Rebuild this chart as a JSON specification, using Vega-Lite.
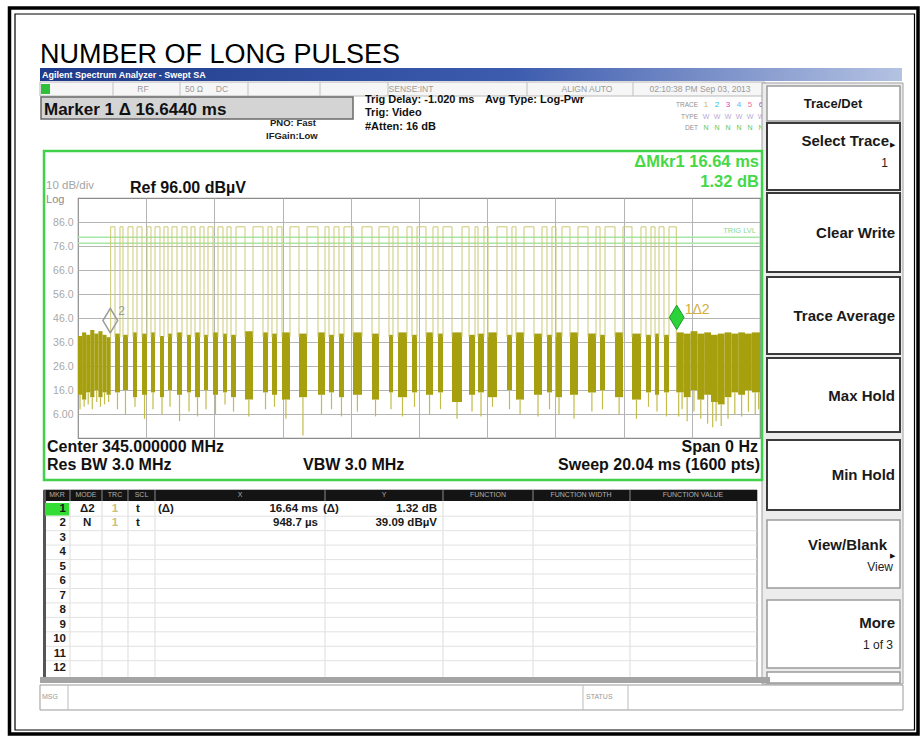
{
"$schema": "https://vega.github.io/schema/vega-lite/v6.json",
"width": 682, "height": 240,
"autosize": {"type": "none"},
"padding": {"left": 78, "top": 198, "right": 163, "bottom": 302},
"background": "#ffffff",
"config": {"font": "Liberation Sans", "view": {"stroke": "#8c8c8c", "strokeWidth": 1.2}},
"datasets": {
"blocks": [
{"t":0,"t2":0.12,"v":38.5,"v2":14},{"t":0.12,"t2":0.24,"v":40,"v2":12},{"t":0.24,"t2":0.36,"v":39,"v2":15},{"t":0.36,"t2":0.48,"v":41,"v2":13},{"t":0.48,"t2":0.6,"v":39.5,"v2":16},{"t":0.6,"t2":0.72,"v":40.5,"v2":13},{"t":0.72,"t2":0.84,"v":39,"v2":15},{"t":0.84,"t2":0.96,"v":38,"v2":14},
{"t":1.087,"t2":1.234,"v":39.5,"v2":15},{"t":1.322,"t2":1.469,"v":39,"v2":16},{"t":1.616,"t2":1.734,"v":40,"v2":13},{"t":1.881,"t2":2.028,"v":39.5,"v2":14},{"t":2.145,"t2":2.263,"v":40,"v2":15},{"t":2.409,"t2":2.527,"v":38.5,"v2":13},{"t":2.645,"t2":2.762,"v":39.5,"v2":16},{"t":2.909,"t2":3.056,"v":40,"v2":14},{"t":3.203,"t2":3.321,"v":39,"v2":15},{"t":3.438,"t2":3.585,"v":40,"v2":13},{"t":3.702,"t2":3.82,"v":39,"v2":16},{"t":3.967,"t2":4.114,"v":40,"v2":14},{"t":4.261,"t2":4.378,"v":39.5,"v2":15},{"t":4.496,"t2":4.643,"v":39,"v2":13},{"t":4.907,"t2":5.142,"v":40.5,"v2":12},{"t":5.436,"t2":5.583,"v":40,"v2":15},{"t":5.7,"t2":5.847,"v":39.5,"v2":14},{"t":5.994,"t2":6.229,"v":40,"v2":12},{"t":6.494,"t2":6.729,"v":39.5,"v2":13},{"t":7.052,"t2":7.258,"v":40,"v2":14},{"t":7.375,"t2":7.522,"v":39,"v2":15},{"t":7.669,"t2":7.816,"v":39.5,"v2":13},{"t":8.081,"t2":8.345,"v":40,"v2":14},{"t":8.639,"t2":8.845,"v":39.5,"v2":12},{"t":9.138,"t2":9.256,"v":39,"v2":15},{"t":9.403,"t2":9.667,"v":40,"v2":13},{"t":9.814,"t2":9.961,"v":39,"v2":15},{"t":10.226,"t2":10.431,"v":40,"v2":14},{"t":10.578,"t2":10.725,"v":39.5,"v2":15},{"t":10.99,"t2":11.284,"v":40,"v2":11},{"t":11.49,"t2":11.666,"v":39,"v2":14},{"t":11.754,"t2":11.93,"v":39.5,"v2":15},{"t":12.048,"t2":12.312,"v":40,"v2":13},{"t":12.605,"t2":12.752,"v":39,"v2":16},{"t":12.87,"t2":13.105,"v":40,"v2":12},{"t":13.399,"t2":13.634,"v":39.5,"v2":14},{"t":13.781,"t2":13.928,"v":39,"v2":15},{"t":14.046,"t2":14.222,"v":40,"v2":13},{"t":14.457,"t2":14.692,"v":40,"v2":14},{"t":14.986,"t2":15.221,"v":39.5,"v2":15},{"t":15.339,"t2":15.486,"v":39,"v2":16},{"t":15.779,"t2":16.014,"v":40,"v2":13},{"t":16.279,"t2":16.543,"v":39.5,"v2":12},{"t":16.69,"t2":16.837,"v":39,"v2":15},{"t":16.955,"t2":17.072,"v":39.5,"v2":14},{"t":17.219,"t2":17.366,"v":39,"v2":15},
{"t":17.58,"t2":17.8,"v":40,"v2":15},{"t":17.8,"t2":18,"v":39.5,"v2":13},{"t":18,"t2":18.2,"v":40.5,"v2":16},{"t":18.2,"t2":18.4,"v":39.5,"v2":12},{"t":18.4,"t2":18.6,"v":40,"v2":14},{"t":18.6,"t2":18.8,"v":39,"v2":11},{"t":18.8,"t2":19,"v":39.5,"v2":10},{"t":19,"t2":19.2,"v":40,"v2":13},{"t":19.2,"t2":19.4,"v":39.5,"v2":15},{"t":19.4,"t2":19.6,"v":40,"v2":14},{"t":19.6,"t2":19.8,"v":39.5,"v2":16},{"t":19.8,"t2":20.04,"v":40,"v2":15}
],
"spikes": [
{"t":0.06,"v":14,"v2":8},{"t":0.18,"v":12,"v2":9},{"t":0.3,"v":15,"v2":10},{"t":0.42,"v":13,"v2":8},{"t":0.55,"v":16,"v2":11},{"t":0.66,"v":13,"v2":9},{"t":0.78,"v":15,"v2":10},{"t":0.9,"v":14,"v2":11},
{"t":1.16,"v":15,"v2":8},{"t":1.395,"v":16,"v2":6},{"t":1.675,"v":13,"v2":9},{"t":1.955,"v":14,"v2":4},{"t":2.204,"v":15,"v2":8},{"t":2.468,"v":13,"v2":6},{"t":2.703,"v":16,"v2":9},{"t":2.983,"v":14,"v2":3},{"t":3.262,"v":15,"v2":7},{"t":3.512,"v":13,"v2":5},{"t":3.761,"v":16,"v2":8},{"t":4.04,"v":14,"v2":6},{"t":4.32,"v":15,"v2":10},{"t":4.57,"v":13,"v2":7},{"t":5.02,"v":12,"v2":5},{"t":5.51,"v":15,"v2":8},{"t":5.774,"v":14,"v2":9},{"t":6.11,"v":12,"v2":4},{"t":6.61,"v":13,"v2":-3},{"t":7.155,"v":14,"v2":6},{"t":7.449,"v":15,"v2":8},{"t":7.742,"v":13,"v2":5},{"t":8.21,"v":14,"v2":7},{"t":8.742,"v":12,"v2":5},{"t":9.197,"v":15,"v2":8},{"t":9.535,"v":13,"v2":5},{"t":9.888,"v":15,"v2":9},{"t":10.33,"v":14,"v2":6},{"t":10.652,"v":15,"v2":8},{"t":11.137,"v":11,"v2":4},{"t":11.578,"v":14,"v2":7},{"t":11.842,"v":15,"v2":5},{"t":12.18,"v":13,"v2":9},{"t":12.679,"v":16,"v2":8},{"t":12.99,"v":12,"v2":6},{"t":13.517,"v":14,"v2":5},{"t":13.855,"v":15,"v2":8},{"t":14.134,"v":13,"v2":6},{"t":14.575,"v":14,"v2":4},{"t":15.1,"v":15,"v2":7},{"t":15.412,"v":16,"v2":8},{"t":15.9,"v":13,"v2":6},{"t":16.41,"v":12,"v2":4},{"t":16.764,"v":15,"v2":9},{"t":17.013,"v":14,"v2":7},{"t":17.292,"v":15,"v2":5},
{"t":17.65,"v":15,"v2":5},{"t":17.75,"v":15,"v2":8},{"t":17.9,"v":13,"v2":3},{"t":18.1,"v":16,"v2":7},{"t":18.3,"v":12,"v2":4},{"t":18.5,"v":14,"v2":2},{"t":18.65,"v":11,"v2":0.5},{"t":18.75,"v":11,"v2":3},{"t":18.9,"v":10,"v2":1},{"t":19.1,"v":13,"v2":4},{"t":19.3,"v":15,"v2":6},{"t":19.5,"v":14,"v2":5},{"t":19.7,"v":16,"v2":7},{"t":19.9,"v":15,"v2":6},{"t":20.0,"v":15,"v2":8}
],
"pulses": [
{"t":0.96,"t2":1.087,"v":84,"v2":38},{"t":1.234,"t2":1.322,"v":84,"v2":38},{"t":1.469,"t2":1.616,"v":84,"v2":38},{"t":1.734,"t2":1.881,"v":84,"v2":38},{"t":2.028,"t2":2.145,"v":84,"v2":38},{"t":2.263,"t2":2.409,"v":84,"v2":38},{"t":2.527,"t2":2.645,"v":84,"v2":38},{"t":2.762,"t2":2.909,"v":84,"v2":38},{"t":3.056,"t2":3.203,"v":84,"v2":38},{"t":3.321,"t2":3.438,"v":84,"v2":38},{"t":3.585,"t2":3.702,"v":84,"v2":38},{"t":3.82,"t2":3.967,"v":84,"v2":38},{"t":4.114,"t2":4.261,"v":84,"v2":38},{"t":4.378,"t2":4.496,"v":84,"v2":38},{"t":4.643,"t2":4.907,"v":84,"v2":38},{"t":5.142,"t2":5.436,"v":84,"v2":38},{"t":5.583,"t2":5.7,"v":84,"v2":38},{"t":5.847,"t2":5.994,"v":84,"v2":38},{"t":6.229,"t2":6.494,"v":84,"v2":38},{"t":6.729,"t2":7.052,"v":84,"v2":38},{"t":7.258,"t2":7.375,"v":84,"v2":38},{"t":7.522,"t2":7.669,"v":84,"v2":38},{"t":7.816,"t2":8.081,"v":84,"v2":38},{"t":8.345,"t2":8.639,"v":84,"v2":38},{"t":8.845,"t2":9.138,"v":84,"v2":38},{"t":9.256,"t2":9.403,"v":84,"v2":38},{"t":9.667,"t2":9.814,"v":84,"v2":38},{"t":9.961,"t2":10.226,"v":84,"v2":38},{"t":10.431,"t2":10.578,"v":84,"v2":38},{"t":10.725,"t2":10.99,"v":84,"v2":38},{"t":11.284,"t2":11.49,"v":84,"v2":38},{"t":11.666,"t2":11.754,"v":84,"v2":38},{"t":11.93,"t2":12.048,"v":84,"v2":38},{"t":12.312,"t2":12.605,"v":84,"v2":38},{"t":12.752,"t2":12.87,"v":84,"v2":38},{"t":13.105,"t2":13.399,"v":84,"v2":38},{"t":13.634,"t2":13.781,"v":84,"v2":38},{"t":13.928,"t2":14.046,"v":84,"v2":38},{"t":14.222,"t2":14.457,"v":84,"v2":38},{"t":14.692,"t2":14.986,"v":84,"v2":38},{"t":15.221,"t2":15.339,"v":84,"v2":38},{"t":15.486,"t2":15.779,"v":84,"v2":38},{"t":16.014,"t2":16.279,"v":84,"v2":38},{"t":16.543,"t2":16.69,"v":84,"v2":38},{"t":16.837,"t2":16.955,"v":84,"v2":38},{"t":17.072,"t2":17.219,"v":84,"v2":38},{"t":17.366,"t2":17.58,"v":84,"v2":38}
],
"tablebody": [{"t":-0.235,"v":-30.25,"v2":-103.5},{"t":0.705,"v":-30.25,"v2":-103.5},{"t":1.469,"v":-30.25,"v2":-103.5},{"t":2.263,"v":-30.25,"v2":-103.5},{"t":7.258,"v":-30.25,"v2":-103.5},{"t":10.725,"v":-30.25,"v2":-103.5},{"t":13.37,"v":-30.25,"v2":-103.5},{"t":16.22,"v":-30.25,"v2":-103.5}],
"tablehead": [{"t":-0.235,"v":-25.667,"v2":-30.25},{"t":0.705,"v":-25.667,"v2":-30.25},{"t":1.469,"v":-25.667,"v2":-30.25},{"t":2.263,"v":-25.667,"v2":-30.25},{"t":7.258,"v":-25.667,"v2":-30.25},{"t":10.725,"v":-25.667,"v2":-30.25},{"t":13.37,"v":-25.667,"v2":-30.25},{"t":16.22,"v":-25.667,"v2":-30.25}],
"rownums": [
{"t":-0.353,"v":-33.583,"s":"1"},{"t":-0.353,"v":-39.604,"s":"2"},{"t":-0.353,"v":-45.625,"s":"3"},{"t":-0.353,"v":-51.646,"s":"4"},{"t":-0.353,"v":-57.667,"s":"5"},{"t":-0.353,"v":-63.688,"s":"6"},{"t":-0.353,"v":-69.708,"s":"7"},{"t":-0.353,"v":-75.729,"s":"8"},{"t":-0.353,"v":-81.75,"s":"9"},{"t":-0.353,"v":-87.771,"s":"10"},{"t":-0.353,"v":-93.792,"s":"11"},{"t":-0.353,"v":-99.813,"s":"12"}
]
},
"encoding": {
"x": {"field": "t", "type": "quantitative", "scale": {"domain": [0, 20.04], "nice": false, "zero": false},
 "axis": {"values": [2.004, 4.008, 6.012, 8.016, 10.02, 12.024, 14.028, 16.032, 18.036], "grid": true, "gridColor": "#b4b4b4", "labels": false, "ticks": false, "domain": false, "title": null}},
"y": {"field": "v", "type": "quantitative", "scale": {"domain": [-4, 96], "nice": false, "zero": false},
 "axis": {"values": [6, 16, 26, 36, 46, 56, 66, 76, 86], "grid": true, "gridColor": "#b4b4b4", "ticks": false, "domain": false, "title": null, "labelColor": "#a8a8a8", "labelFontSize": 10.5, "labelPadding": 5, "labelExpr": "datum.value < 10 ? format(datum.value, '.2f') : format(datum.value, '.1f')"}}
},
"layer": [
{"data": {"values": [{"t": -2.013, "t2": 24.683, "v": 175.167, "v2": -127.333}]}, "mark": {"type": "rect", "fillOpacity": 0, "stroke": "#000000", "strokeWidth": 3.5}, "encoding": {"x2": {"field": "t2"}, "y2": {"field": "v2"}}},
{"data": {"values": [{"t": -1.851, "t2": 24.58, "v": 172.667, "v2": -125.667}]}, "mark": {"type": "rect", "fillOpacity": 0, "stroke": "#000000", "strokeWidth": 1.2}, "encoding": {"x2": {"field": "t2"}, "y2": {"field": "v2"}}},
{"data": {"values": [{"t": -1.117, "v": 152.25, "s": "NUMBER OF LONG PULSES"}]}, "mark": {"type": "text", "align": "left", "baseline": "alphabetic", "fontSize": 27, "color": "#000000"}, "encoding": {"text": {"field": "s"}}},
{"data": {"values": [{"t": -1.117, "t2": 24.212, "v": 150.167, "v2": 144.75}]}, "mark": {"type": "rect", "fill": {"gradient": "linear", "x1": 0, "y1": 0, "x2": 1, "y2": 0, "stops": [{"offset": 0, "color": "#1f3a8a"}, {"offset": 0.55, "color": "#3d5cae"}, {"offset": 1, "color": "#b4c2e2"}]}}, "encoding": {"x2": {"field": "t2"}, "y2": {"field": "v2"}}},
{"data": {"values": [{"t": -1.058, "v": 147.458, "s": "Agilent Spectrum Analyzer - Swept SA"}]}, "mark": {"type": "text", "align": "left", "fontSize": 9, "fontWeight": "bold", "color": "#ffffff"}, "encoding": {"text": {"field": "s"}}},
{"data": {"values": [{"t": -1.117, "t2": 20.187, "v": 144.333, "v2": 138.5}]}, "mark": {"type": "rect", "fill": "#f6f6f6", "stroke": "#b8b8b8", "strokeWidth": 1}, "encoding": {"x2": {"field": "t2"}, "y2": {"field": "v2"}}},
{"data": {"values": [{"t": 1.028, "v": 144.333, "v2": 138.5}, {"t": 2.997, "v": 144.333, "v2": 138.5}, {"t": 4.995, "v": 144.333, "v2": 138.5}, {"t": 7.111, "v": 144.333, "v2": 138.5}, {"t": 9.109, "v": 144.333, "v2": 138.5}, {"t": 13.193, "v": 144.333, "v2": 138.5}, {"t": 16.308, "v": 144.333, "v2": 138.5}]}, "mark": {"type": "rule", "stroke": "#c0c0c0"}, "encoding": {"y2": {"field": "v2"}}},
{"data": {"values": [{"t": -1.087, "t2": -0.823, "v": 143.5, "v2": 139.333}]}, "mark": {"type": "rect", "fill": "#2fbf3a"}, "encoding": {"x2": {"field": "t2"}, "y2": {"field": "v2"}}},
{"data": {"values": [{"t": 1.91, "v": 141.417, "s": "RF"}, {"t": 3.409, "v": 141.417, "s": "50 Ω"}, {"t": 4.231, "v": 141.417, "s": "DC"}, {"t": 9.785, "v": 141.417, "s": "SENSE:INT"}, {"t": 14.956, "v": 141.417, "s": "ALIGN AUTO"}, {"t": 18.277, "v": 141.417, "s": "02:10:38 PM Sep 03, 2013"}]}, "mark": {"type": "text", "align": "center", "fontSize": 8.5, "color": "#9a9a9a"}, "encoding": {"text": {"field": "s"}}},
{"data": {"values": [{"t": -1.087, "t2": 8.081, "v": 138.083, "v2": 128.917}]}, "mark": {"type": "rect", "fill": "#d4d4d4", "stroke": "#6a6a6a", "strokeWidth": 1.5}, "encoding": {"x2": {"field": "t2"}, "y2": {"field": "v2"}}},
{"data": {"values": [{"t": -0.999, "v": 132.875, "s": "Marker 1 Δ 16.6440 ms"}]}, "mark": {"type": "text", "align": "left", "fontSize": 17, "fontWeight": "bold", "color": "#111111"}, "encoding": {"text": {"field": "s"}}},
{"data": {"values": [{"t": 8.433, "v": 136.833, "s": "Trig Delay: -1.020 ms"}, {"t": 8.433, "v": 131.417, "s": "Trig: Video"}, {"t": 8.433, "v": 125.583, "s": "#Atten: 16 dB"}, {"t": 11.959, "v": 136.833, "s": "Avg Type: Log-Pwr"}]}, "mark": {"type": "text", "align": "left", "fontSize": 11, "fontWeight": "bold", "color": "#111111"}, "encoding": {"text": {"field": "s"}}},
{"data": {"values": [{"t": 5.642, "v": 127.25, "s": "PNO: Fast"}, {"t": 5.524, "v": 121.833, "s": "IFGain:Low"}]}, "mark": {"type": "text", "align": "left", "fontSize": 9.5, "fontWeight": "bold", "color": "#222222"}, "encoding": {"text": {"field": "s"}}},
{"data": {"values": [{"t": 18.218, "v": 134.75, "s": "TRACE"}, {"t": 18.218, "v": 129.75, "s": "TYPE"}, {"t": 18.218, "v": 125.167, "s": "DET"}]}, "mark": {"type": "text", "align": "right", "fontSize": 6.5, "color": "#909090"}, "encoding": {"text": {"field": "s"}}},
{"data": {"values": [{"t": 18.453, "v": 134.75, "s": "1"}, {"t": 18.777, "v": 134.75, "s": "2"}, {"t": 19.1, "v": 134.75, "s": "3"}, {"t": 19.423, "v": 134.75, "s": "4"}, {"t": 19.746, "v": 134.75, "s": "5"}, {"t": 20.07, "v": 134.75, "s": "6"}]}, "mark": {"type": "text", "align": "center", "fontSize": 8}, "encoding": {"text": {"field": "s"}, "color": {"field": "s", "type": "nominal", "scale": {"domain": ["1", "2", "3", "4", "5", "6"], "range": ["#c8c040", "#30c0e0", "#e040c0", "#60b0ff", "#f070a0", "#a060d0"]}, "legend": null}}},
{"data": {"values": [{"t": 18.453, "v": 129.75, "s": "W"}, {"t": 18.777, "v": 129.75, "s": "W"}, {"t": 19.1, "v": 129.75, "s": "W"}, {"t": 19.423, "v": 129.75, "s": "W"}, {"t": 19.746, "v": 129.75, "s": "W"}, {"t": 20.07, "v": 129.75, "s": "W"}]}, "mark": {"type": "text", "align": "center", "fontSize": 7, "color": "#b8a8d8"}, "encoding": {"text": {"field": "s"}}},
{"data": {"values": [{"t": 18.453, "v": 125.167, "s": "N"}, {"t": 18.777, "v": 125.167, "s": "N"}, {"t": 19.1, "v": 125.167, "s": "N"}, {"t": 19.423, "v": 125.167, "s": "N"}, {"t": 19.746, "v": 125.167, "s": "N"}, {"t": 20.07, "v": 125.167, "s": "N"}]}, "mark": {"type": "text", "align": "center", "fontSize": 7, "color": "#58c858"}, "encoding": {"text": {"field": "s"}}},
{"data": {"values": [{"t": 20.099, "t2": 24.242, "v": 143.917, "v2": -106.5}]}, "mark": {"type": "rect", "fill": "#ececec", "stroke": "#a0a0a0", "strokeWidth": 1}, "encoding": {"x2": {"field": "t2"}, "y2": {"field": "v2"}}},
{"data": {"values": [{"t": 20.246, "t2": 24.154, "v": 142.667, "v2": 128.083}, {"t": 20.246, "t2": 24.154, "v": -38.167, "v2": -66.5}, {"t": 20.246, "t2": 24.154, "v": -71.5, "v2": -99.833}, {"t": 20.246, "t2": 24.154, "v": -101.5, "v2": -106.083}]}, "mark": {"type": "rect", "fill": "#ffffff", "stroke": "#9a9a9a", "strokeWidth": 1.5}, "encoding": {"x2": {"field": "t2"}, "y2": {"field": "v2"}}},
{"data": {"values": [{"t": 20.246, "t2": 24.154, "v": 127.25, "v2": 99.333}, {"t": 20.246, "t2": 24.154, "v": 98.083, "v2": 65.167}, {"t": 20.246, "t2": 24.154, "v": 63.083, "v2": 31.0}, {"t": 20.246, "t2": 24.154, "v": 29.333, "v2": -1.5}, {"t": 20.246, "t2": 24.154, "v": -4.833, "v2": -34.0}]}, "mark": {"type": "rect", "fill": "#ffffff", "stroke": "#3a3a3a", "strokeWidth": 2}, "encoding": {"x2": {"field": "t2"}, "y2": {"field": "v2"}}},
{"data": {"values": [{"t": 23.83, "v": 119.75, "s": "Select Trace"}, {"t": 24.007, "v": 81.417, "s": "Clear Write"}, {"t": 24.007, "v": 46.833, "s": "Trace Average"}, {"t": 24.007, "v": 13.5, "s": "Max Hold"}, {"t": 24.007, "v": -19.417, "s": "Min Hold"}, {"t": 23.772, "v": -48.583, "s": "View/Blank"}, {"t": 24.007, "v": -81.083, "s": "More"}]}, "mark": {"type": "text", "align": "right", "fontSize": 15, "fontWeight": "bold", "color": "#1a1a1a"}, "encoding": {"text": {"field": "s"}}},
{"data": {"values": [{"t": 22.185, "v": 135.375, "s": "Trace/Det"}]}, "mark": {"type": "text", "align": "center", "fontSize": 13, "fontWeight": "bold", "color": "#1a1a1a"}, "encoding": {"text": {"field": "s"}}},
{"data": {"values": [{"t": 23.801, "v": 110.583, "s": "1"}, {"t": 23.948, "v": -57.75, "s": "View"}, {"t": 23.948, "v": -90.25, "s": "1 of 3"}]}, "mark": {"type": "text", "align": "right", "fontSize": 12, "color": "#222222"}, "encoding": {"text": {"field": "s"}}},
{"data": {"values": [{"t": 23.948, "v": 118.083, "s": "▶"}, {"t": 23.948, "v": -53.167, "s": "▶"}]}, "mark": {"type": "text", "align": "center", "fontSize": 7, "color": "#111111"}, "encoding": {"text": {"field": "s"}}},
{"data": {"values": [{"t": -0.999, "t2": 20.099, "v": 115.583, "v2": -21.5}]}, "mark": {"type": "rect", "fillOpacity": 0, "stroke": "#3fd24a", "strokeWidth": 2.5}, "encoding": {"x2": {"field": "t2"}, "y2": {"field": "v2"}}},
{"data": {"values": [{"t": 20.01, "v": 110.792, "s": "ΔMkr1 16.64 ms"}, {"t": 20.01, "v": 102.875, "s": "1.32 dB"}]}, "mark": {"type": "text", "align": "right", "fontSize": 16.5, "fontWeight": "bold", "color": "#46d846"}, "encoding": {"text": {"field": "s"}}},
{"data": {"values": [{"t": -0.94, "v": 101.0, "s": "10 dB/div"}]}, "mark": {"type": "text", "align": "left", "fontSize": 11.5, "color": "#a4a4a4"}, "encoding": {"text": {"field": "s"}}},
{"data": {"values": [{"t": -0.94, "v": 95.167, "s": "Log"}]}, "mark": {"type": "text", "align": "left", "fontSize": 11, "color": "#8a8a8a"}, "encoding": {"text": {"field": "s"}}},
{"data": {"values": [{"t": 1.528, "v": 100.167, "s": "Ref 96.00 dBµV"}]}, "mark": {"type": "text", "align": "left", "fontSize": 16, "fontWeight": "bold", "color": "#111111"}, "encoding": {"text": {"field": "s"}}},
{"data": {"values": [{"t": -0.911, "v": -7.75, "s": "Center 345.000000 MHz"}, {"t": -0.911, "v": -15.25, "s": "Res BW 3.0 MHz"}, {"t": 6.611, "v": -15.25, "s": "VBW 3.0 MHz"}]}, "mark": {"type": "text", "align": "left", "fontSize": 16, "fontWeight": "bold", "color": "#111111"}, "encoding": {"text": {"field": "s"}}},
{"data": {"values": [{"t": 19.981, "v": -7.75, "s": "Span 0 Hz"}, {"t": 20.04, "v": -15.25, "s": "Sweep  20.04 ms (1600 pts)"}]}, "mark": {"type": "text", "align": "right", "fontSize": 16, "fontWeight": "bold", "color": "#111111"}, "encoding": {"text": {"field": "s"}}},
{"data": {"name": "blocks"}, "mark": {"type": "rect", "fill": "#a69f0e"}, "encoding": {"x2": {"field": "t2"}, "y2": {"field": "v2"}}},
{"data": {"values": [{"t": 0, "t2": 20.04, "v": 79.6}, {"t": 0, "t2": 20.04, "v": 77.1}]}, "mark": {"type": "rule", "stroke": "#a6e6a6", "strokeWidth": 1.5}, "encoding": {"x2": {"field": "t2"}}},
{"data": {"values": [{"t": 19.922, "v": 82.2, "s": "TRIG LVL"}]}, "mark": {"type": "text", "align": "right", "fontSize": 7.5, "color": "#8ed88e"}, "encoding": {"text": {"field": "s"}}},
{"data": {"name": "spikes"}, "mark": {"type": "rule", "stroke": "#c2bc48", "strokeWidth": 1.2}, "encoding": {"y2": {"field": "v2"}}},
{"data": {"name": "pulses"}, "mark": {"type": "rule", "stroke": "#cdc976", "strokeWidth": 1}, "encoding": {"x2": {"field": "t2"}}},
{"data": {"name": "pulses"}, "mark": {"type": "rule", "stroke": "#cdc976", "strokeWidth": 1}, "encoding": {"y2": {"field": "v2"}}},
{"data": {"name": "pulses"}, "mark": {"type": "rule", "stroke": "#cdc976", "strokeWidth": 1}, "encoding": {"x": {"field": "t2"}, "y2": {"field": "v2"}}},
{"data": {"values": [{"t": 0.9487, "v": 39.09}]}, "mark": {"type": "point", "shape": "M0,-1L0.6,0L0,1L-0.6,0Z", "size": 600, "filled": false, "stroke": "#9a9a9a", "strokeWidth": 1.5, "opacity": 1, "yOffset": -14}},
{"data": {"values": [{"t": 17.593, "v": 40.41}]}, "mark": {"type": "point", "shape": "M0,-1L0.6,0L0,1L-0.6,0Z", "size": 600, "filled": true, "fill": "#2bd23a", "stroke": "#1a9a28", "strokeWidth": 1, "opacity": 1, "yOffset": -14}},
{"data": {"values": [{"t": 0.9487, "v": 39.09, "s": "2"}]}, "mark": {"type": "text", "align": "left", "dx": 8, "dy": -24, "fontSize": 12, "color": "#9a9a9a"}, "encoding": {"text": {"field": "s"}}},
{"data": {"values": [{"t": 17.593, "v": 40.41, "s": "1Δ2"}]}, "mark": {"type": "text", "align": "left", "dx": 8, "dy": -21, "fontSize": 14, "color": "#d2ae42"}, "encoding": {"text": {"field": "s"}}},
{"data": {"values": [{"t": -0.999, "t2": 19.952, "v": -25.667, "v2": -104}]}, "mark": {"type": "rect", "fill": "#ffffff", "stroke": "#777777", "strokeWidth": 1}, "encoding": {"x2": {"field": "t2"}, "y2": {"field": "v2"}}},
{"data": {"values": [{"t": -0.97, "t2": 19.952, "v": -25.667, "v2": -30.25}]}, "mark": {"type": "rect", "fill": "#141414"}, "encoding": {"x2": {"field": "t2"}, "y2": {"field": "v2"}}},
{"data": {"name": "tablebody"}, "mark": {"type": "rule", "stroke": "#dddddd"}, "encoding": {"y2": {"field": "v2"}}},
{"data": {"name": "tablehead"}, "mark": {"type": "rule", "stroke": "#8a8a8a"}, "encoding": {"y2": {"field": "v2"}}},
{"data": {"values": [{"t": -0.97, "t2": 19.952, "v": -36.583}, {"t": -0.97, "t2": 19.952, "v": -42.625}, {"t": -0.97, "t2": 19.952, "v": -48.625}, {"t": -0.97, "t2": 19.952, "v": -54.667}, {"t": -0.97, "t2": 19.952, "v": -60.667}, {"t": -0.97, "t2": 19.952, "v": -66.708}, {"t": -0.97, "t2": 19.952, "v": -72.708}, {"t": -0.97, "t2": 19.952, "v": -78.75}, {"t": -0.97, "t2": 19.952, "v": -84.75}, {"t": -0.97, "t2": 19.952, "v": -90.792}, {"t": -0.97, "t2": 19.952, "v": -96.792}]}, "mark": {"type": "rule", "stroke": "#e2e2e2"}, "encoding": {"x2": {"field": "t2"}}},
{"data": {"values": [{"t": -0.984, "v": -25.667, "v2": -104}]}, "mark": {"type": "rule", "stroke": "#555555", "strokeWidth": 3}, "encoding": {"y2": {"field": "v2"}}},
{"data": {"values": [{"t": -0.617, "v": -27.958, "s": "MKR"}, {"t": 0.235, "v": -27.958, "s": "MODE"}, {"t": 1.087, "v": -27.958, "s": "TRC"}, {"t": 1.866, "v": -27.958, "s": "SCL"}, {"t": 4.76, "v": -27.958, "s": "X"}, {"t": 8.992, "v": -27.958, "s": "Y"}, {"t": 12.047, "v": -27.958, "s": "FUNCTION"}, {"t": 14.78, "v": -27.958, "s": "FUNCTION WIDTH"}, {"t": 18.071, "v": -27.958, "s": "FUNCTION VALUE"}]}, "mark": {"type": "text", "align": "center", "fontSize": 7, "color": "#b0b0b0"}, "encoding": {"text": {"field": "s"}}},
{"data": {"values": [{"t": -0.97, "t2": -0.264, "v": -31.083, "v2": -36.292}]}, "mark": {"type": "rect", "fill": "#33dd33"}, "encoding": {"x2": {"field": "t2"}, "y2": {"field": "v2"}}},
{"data": {"name": "rownums"}, "mark": {"type": "text", "align": "right", "fontSize": 11.5, "fontWeight": "bold", "color": "#1a1a1a"}, "encoding": {"text": {"field": "s"}}},
{"data": {"values": [{"t": 0.059, "v": -33.583, "s": "Δ2"}, {"t": 1.704, "v": -33.583, "s": "t"}, {"t": 2.351, "v": -33.583, "s": "(Δ)"}, {"t": 7.199, "v": -33.583, "s": "(Δ)"}, {"t": 0.147, "v": -39.604, "s": "N"}, {"t": 1.704, "v": -39.604, "s": "t"}]}, "mark": {"type": "text", "align": "left", "fontSize": 11.5, "fontWeight": "bold", "color": "#1a1a1a"}, "encoding": {"text": {"field": "s"}}},
{"data": {"values": [{"t": 7.052, "v": -33.583, "s": "16.64 ms"}, {"t": 10.549, "v": -33.583, "s": "1.32 dB"}, {"t": 7.052, "v": -39.604, "s": "948.7 µs"}, {"t": 10.549, "v": -39.604, "s": "39.09 dBµV"}]}, "mark": {"type": "text", "align": "right", "fontSize": 11.5, "fontWeight": "bold", "color": "#1a1a1a"}, "encoding": {"text": {"field": "s"}}},
{"data": {"values": [{"t": 1.087, "v": -33.583, "s": "1"}, {"t": 1.087, "v": -39.604, "s": "1"}]}, "mark": {"type": "text", "align": "center", "fontSize": 11.5, "fontWeight": "bold", "color": "#c8c27a"}, "encoding": {"text": {"field": "s"}}},
{"data": {"values": [{"t": -1.117, "t2": 20.334, "v": -103.583, "v2": -106.083}]}, "mark": {"type": "rect", "fill": "#a4a4a4"}, "encoding": {"x2": {"field": "t2"}, "y2": {"field": "v2"}}},
{"data": {"values": [{"t": -1.117, "t2": 24.242, "v": -106.917, "v2": -117.333}]}, "mark": {"type": "rect", "fill": "#ffffff", "stroke": "#9a9a9a", "strokeWidth": 1}, "encoding": {"x2": {"field": "t2"}, "y2": {"field": "v2"}}},
{"data": {"values": [{"t": -0.294, "v": -106.917, "v2": -117.333}, {"t": 14.839, "v": -106.917, "v2": -117.333}, {"t": 16.161, "v": -106.917, "v2": -117.333}]}, "mark": {"type": "rule", "stroke": "#bbbbbb"}, "encoding": {"y2": {"field": "v2"}}},
{"data": {"values": [{"t": -1.058, "v": -111.917, "s": "MSG"}, {"t": 14.927, "v": -111.917, "s": "STATUS"}]}, "mark": {"type": "text", "align": "left", "fontSize": 7, "color": "#999999"}, "encoding": {"text": {"field": "s"}}}
]
}
